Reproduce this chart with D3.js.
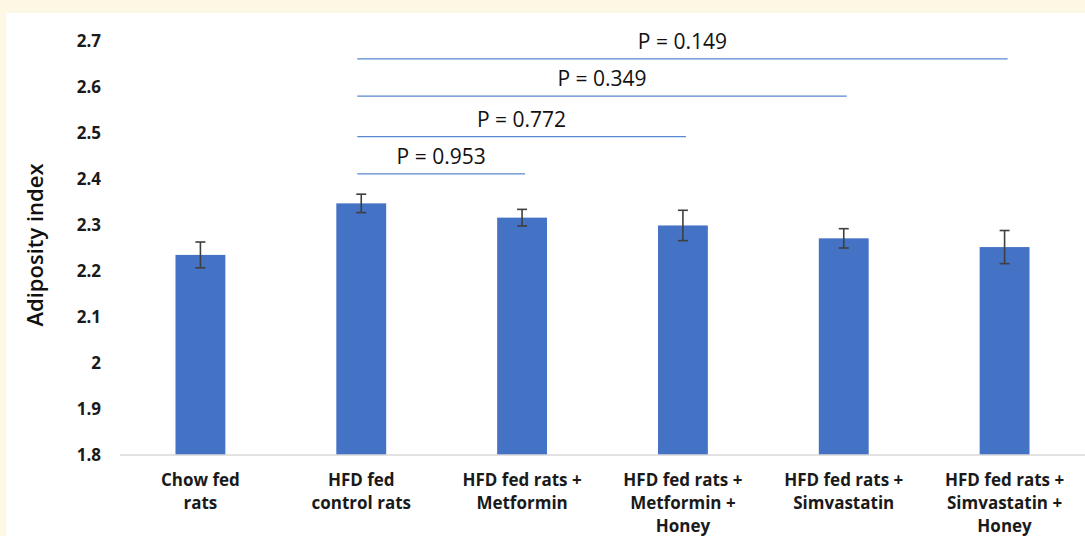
<!DOCTYPE html>
<html>
<head>
<meta charset="utf-8">
<script src="https://cdn.jsdelivr.net/npm/d3@7"></script>
<style>
  body { margin: 0; background: #fdf8e4; }
  svg { display: block; }
</style>
</head>
<body>
<svg id="chart" width="1085" height="536"></svg>
<script>
// data
var groups = [
  ["Chow fed", "rats"],
  ["HFD fed", "control rats"],
  ["HFD fed rats +", "Metformin"],
  ["HFD fed rats +", "Metformin +", "Honey"],
  ["HFD fed rats +", "Simvastatin"],
  ["HFD fed rats +", "Simvastatin +", "Honey"]
];
var means = [2.235, 2.347, 2.316, 2.299, 2.271, 2.252];
var errs = [0.028, 0.02, 0.018, 0.033, 0.021, 0.036];
var yTicks = [1.8, 1.9, 2, 2.1, 2.2, 2.3, 2.4, 2.5, 2.6, 2.7];
// comparisons against HFD control: [from, to, level, label]
var pFrom = [1, 1, 1, 1];
var pTo = [2, 3, 4, 5];
var pLevel = [2.411, 2.492, 2.58, 2.661];
var pLabels = ["P = 0.953", "P = 0.772", "P = 0.349", "P = 0.149"];

var svg = d3.select("#chart");

svg.append("rect")
  .attr("x", 6).attr("y", 13)
  .attr("width", 1079).attr("height", 523)
  .attr("fill", "#ffffff");

var x = d3.scaleBand()
  .domain(d3.range(groups.length))
  .range([120, 1085])
  .paddingInner(0.69)
  .paddingOuter(0.345);

var y = d3.scaleLinear()
  .domain([1.8, 2.7])
  .range([455, 41]);

// y tick labels (no axis line)
var yAxis = svg.append("g")
  .attr("transform", "translate(101,0)")
  .call(d3.axisLeft(y).tickValues(yTicks).tickSize(0).tickPadding(0)
        .tickFormat(function(d){ return String(d); }));
yAxis.select(".domain").remove();
yAxis.selectAll("text")
  .attr("font-family", "Open Sans, sans-serif")
  .attr("font-size", 17)
  .attr("font-weight", "bold")
  .attr("fill", "#1a1a1a");

// axis title
svg.append("text")
  .attr("transform", "translate(43,245) rotate(-90)")
  .attr("text-anchor", "middle")
  .attr("font-family", "Open Sans, sans-serif")
  .attr("font-size", 22)
  .attr("font-weight", 600)
  .attr("fill", "#111")
  .text("Adiposity index");

// bars
svg.append("g").selectAll("rect")
  .data(means)
  .enter().append("rect")
  .attr("x", function(d,i){ return x(i); })
  .attr("y", function(d){ return y(d); })
  .attr("width", x.bandwidth())
  .attr("height", function(d){ return y(1.8) - y(d); })
  .attr("fill", "#4472c4");

// baseline
svg.append("line")
  .attr("x1", 120).attr("x2", 1085)
  .attr("y1", y(1.8)).attr("y2", y(1.8))
  .attr("stroke", "#d9d9d9")
  .attr("stroke-width", 1.5);

// error bars
var eb = svg.append("g")
  .attr("stroke", "#3f3f3f")
  .attr("stroke-width", 1.6);
means.forEach(function(m, i) {
  var cx = x(i) + x.bandwidth() / 2;
  var top = y(m + errs[i]), bot = y(m - errs[i]);
  eb.append("line").attr("x1", cx).attr("x2", cx).attr("y1", top).attr("y2", bot);
  eb.append("line").attr("x1", cx - 5).attr("x2", cx + 5).attr("y1", top).attr("y2", top);
  eb.append("line").attr("x1", cx - 5).attr("x2", cx + 5).attr("y1", bot).attr("y2", bot);
});

// x category labels
var xl = svg.append("g");
groups.forEach(function(lines, i) {
  var t = xl.append("text")
    .attr("x", x(i) + x.bandwidth() / 2)
    .attr("y", 486)
    .attr("text-anchor", "middle")
    .attr("font-family", "Open Sans, sans-serif")
    .attr("font-size", 17)
    .attr("font-weight", "bold")
    .attr("fill", "#1a1a1a");
  lines.forEach(function(s, k) {
    t.append("tspan")
      .attr("x", x(i) + x.bandwidth() / 2)
      .attr("dy", k === 0 ? 0 : 23)
      .text(s);
  });
});

// significance brackets
var pg = svg.append("g");
pLabels.forEach(function(lab, j) {
  var x1 = x(pFrom[j]) + x.bandwidth() / 2 - 4;
  var x2 = x(pTo[j]) + x.bandwidth() / 2 + 3;
  var yy = y(pLevel[j]);
  pg.append("line")
    .attr("x1", x1).attr("x2", x2)
    .attr("y1", yy).attr("y2", yy)
    .attr("stroke", "#5a87d2")
    .attr("stroke-width", 1.2);
  pg.append("text")
    .attr("x", (x1 + x2) / 2)
    .attr("y", yy - 10)
    .attr("text-anchor", "middle")
    .attr("font-family", "Open Sans, sans-serif")
    .attr("font-size", 21)
    .attr("fill", "#111")
    .text(lab);
});
</script>
</body>
</html>
